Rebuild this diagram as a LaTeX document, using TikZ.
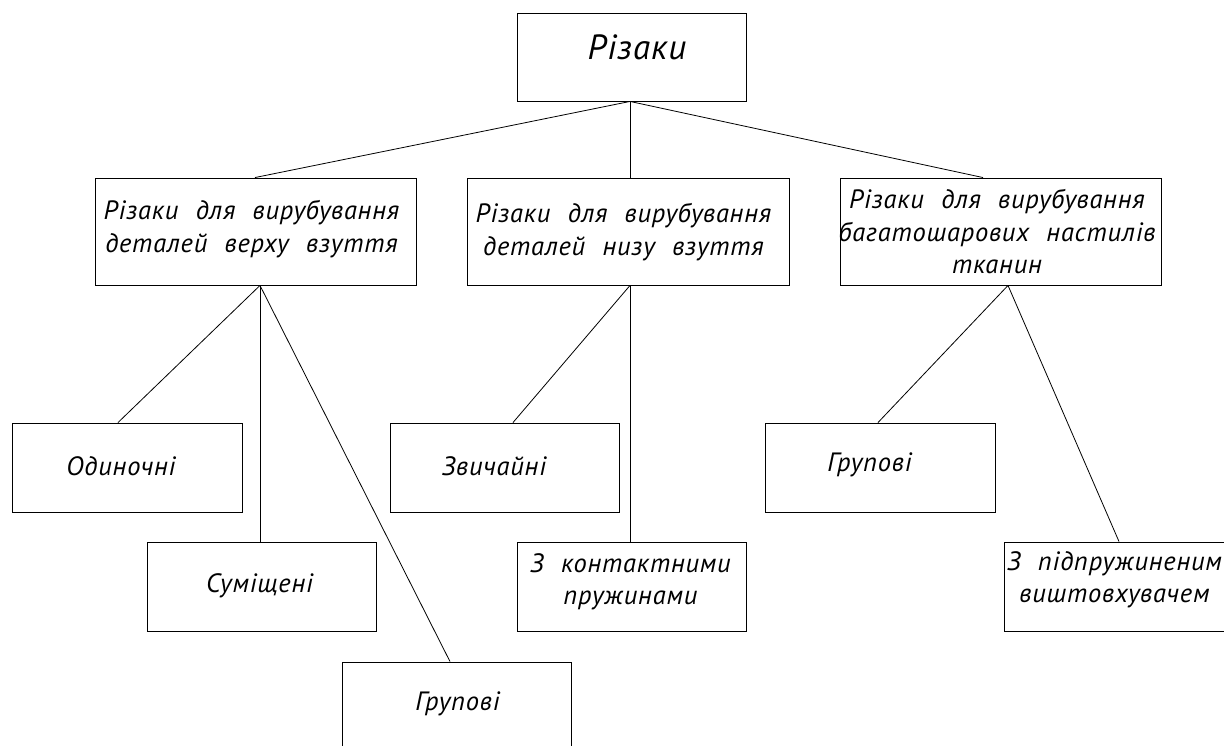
\documentclass[tikz,border=0pt]{standalone}
\usepackage{fontspec}
\newfontfamily\gost{PT Sans}[LetterSpace=3,WordSpace=2.2]
\begin{document}
\begin{tikzpicture}[x=1pt,y=-1pt,
  box/.style={draw, line width=0.9pt, rectangle, inner sep=0pt, minimum height=89pt},
  conn/.style={line width=0.8pt},
  txt/.style={inner sep=0pt, align=center, font=\gost\itshape\fontsize{26.5}{32.5}\selectfont},
  ttl/.style={inner sep=0pt, font=\gost\itshape\fontsize{35}{40}\selectfont}]
\useasboundingbox (0,0) rectangle (1224,746);
\clip (0,0) rectangle (1224,746);
% boxes
\node[box, minimum width=229pt, minimum height=88pt] (top) at (631.5,57) {};
\node[box, minimum width=321pt, minimum height=107pt] (L1) at (255.5,231.5) {};
\node[box, minimum width=322pt, minimum height=107pt] (M1) at (628,231.5) {};
\node[box, minimum width=321pt, minimum height=107pt] (R1) at (1000.5,231.5) {};
\node[box, minimum width=230pt] (odn) at (127,467.5) {};
\node[box, minimum width=229pt] (sum) at (261.5,586.5) {};
\node[box, minimum width=229pt] (grL) at (456.5,706.5) {};
\node[box, minimum width=229pt] (zv) at (505,467.5) {};
\node[box, minimum width=229pt] (kon) at (631.5,586.5) {};
\node[box, minimum width=230pt] (grR) at (880,467.5) {};
\node[box, minimum width=229pt] (pid) at (1118.5,586.5) {};
% texts
\node[ttl] (topT) at (637,47) {Різаки};
\node[txt] (L1T) at (251.5,229) {Різаки для вирубування\\деталей верху взуття};
\node[txt] (M1T) at (623.5,232) {Різаки для вирубування\\деталей низу взуття};
\node[txt] (R1T) at (997,232) {Різаки для вирубування\\багатошарових настилів\\тканин};
\node[txt] (odnT) at (121,466) {Одиночні};
\node[txt] (sumT) at (259.5,586) {Суміщені};
\node[txt] (grLT) at (457.5,704) {Групові};
\node[txt] (zvT) at (494,466) {Звичайні};
\node[txt] (konT) at (630.5,582) {З контактними\\пружинами};
\node[txt] (grRT) at (869.5,465) {Групові};
\node[txt] (pidT) at (1114.5,580) {З підпружиненим\\виштовхувачем};
% connectors
\draw[conn] ([xshift=-1.5pt]top.south) -- ([xshift=-0.5pt]L1.north);
\draw[conn] ([xshift=-1.5pt]top.south) -- ([xshift=2pt]M1.north);
\draw[conn] ([xshift=-1.5pt]top.south) -- ([xshift=-17.5pt]R1.north);
\draw[conn] ([xshift=4.5pt]L1.south) -- ([xshift=-9pt]odn.north);
\draw[conn] ([xshift=4.5pt]L1.south) -- ([xshift=-1.5pt]sum.north);
\draw[conn] ([xshift=4.5pt]L1.south) -- ([xshift=-6.5pt]grL.north);
\draw[conn] ([xshift=2pt]M1.south) -- ([xshift=8pt]zv.north);
\draw[conn] ([xshift=2pt]M1.south) -- ([xshift=-1.5pt]kon.north);
\draw[conn] ([xshift=7.5pt]R1.south) -- ([xshift=-2pt]grR.north);
\draw[conn] ([xshift=7.5pt]R1.south) -- ([xshift=0.5pt]pid.north);
\end{tikzpicture}
\end{document}
